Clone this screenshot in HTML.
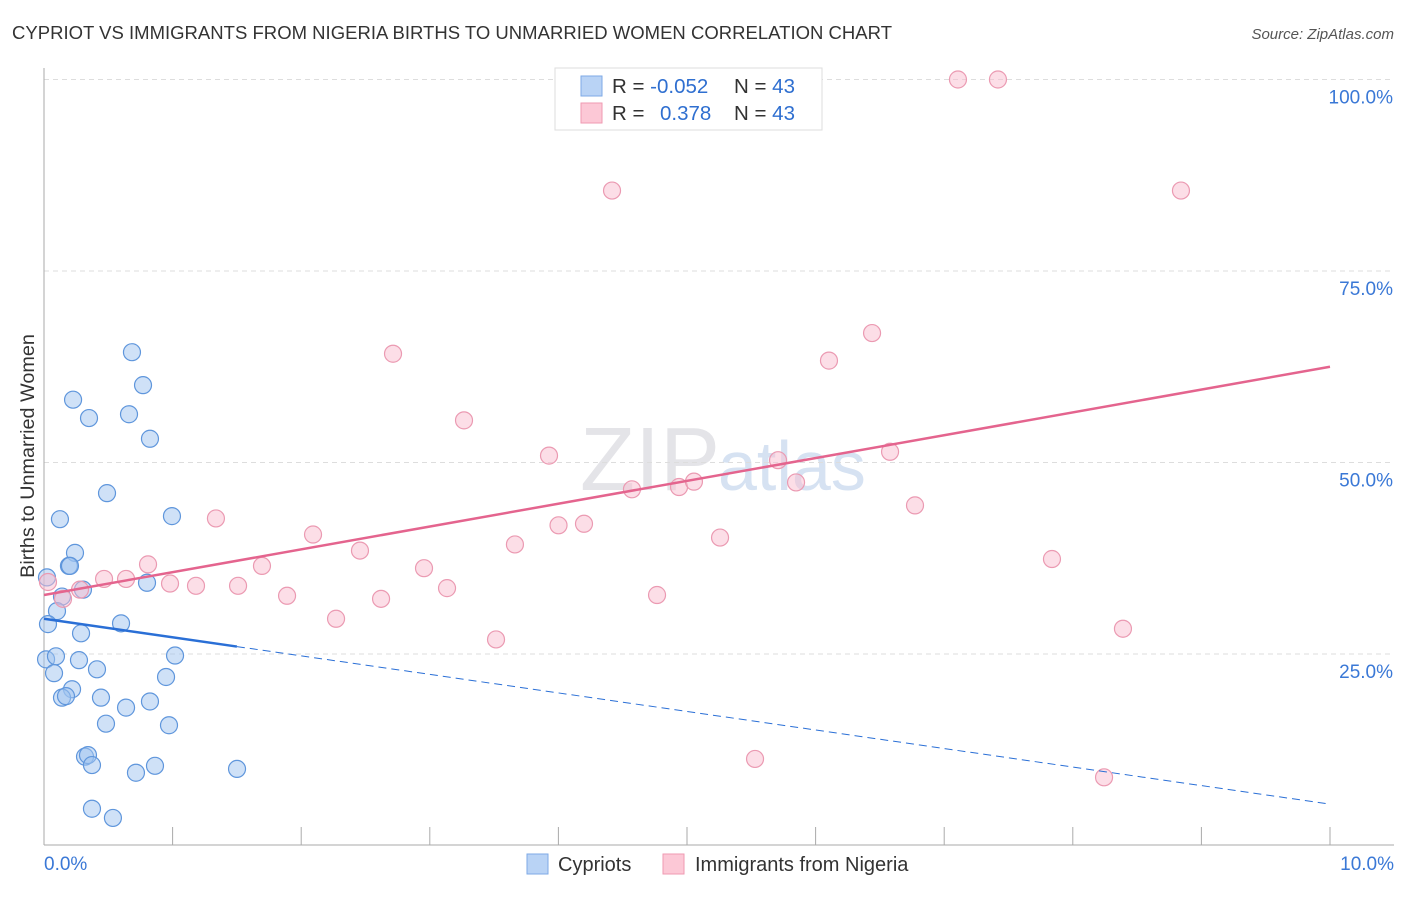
<!DOCTYPE html>
<html><head><meta charset="utf-8"><style>
body{margin:0;background:#fff;font-family:"Liberation Sans",sans-serif}
svg text{font-family:"Liberation Sans",sans-serif}
</style></head><body>
<svg id="c" width="1406" height="892">
<text x="12" y="39" font-size="18.5" fill="#333" textLength="880">CYPRIOT VS IMMIGRANTS FROM NIGERIA BIRTHS TO UNMARRIED WOMEN CORRELATION CHART</text>
<text x="1394" y="39" font-size="15" fill="#555" text-anchor="end" font-style="italic">Source: ZipAtlas.com</text>
<text x="34" y="456" font-size="19.8" fill="#333" text-anchor="middle" transform="rotate(-90 34 456)">Births to Unmarried Women</text>
<text x="720" y="490" font-size="90" fill="#e4e4e8" text-anchor="end" font-family="Liberation Serif">ZIP</text>
<text x="718" y="490" font-size="70" fill="#d6e2f2">atlas</text>
<g id="grid"></g><g id="axes"></g><g id="pts"></g><g id="lines"></g>
<g>
<rect x="555" y="68" width="267" height="62" fill="#fff" stroke="#ddd"/>
<rect x="581" y="76" width="21" height="20" fill="#b9d3f5" stroke="#7eaae6"/>
<rect x="581" y="103" width="21" height="20" fill="#fcc8d6" stroke="#ef9ab2"/>
<text x="612" y="93" font-size="20.5" fill="#333">R = <tspan fill="#2f6fd0">-0.052</tspan></text>
<text x="734" y="93" font-size="20.5" fill="#333">N = <tspan fill="#2f6fd0">43</tspan></text>
<text x="612" y="120" font-size="20.5" fill="#333">R = </text><text x="660" y="120" font-size="20.5" fill="#2f6fd0">0.378</text>
<text x="734" y="120" font-size="20.5" fill="#333">N = <tspan fill="#2f6fd0">43</tspan></text>
</g>
<g>
<rect x="527" y="854" width="21" height="20" fill="#b9d3f5" stroke="#7eaae6"/>
<text x="558" y="871" font-size="20" fill="#333">Cypriots</text>
<rect x="663" y="854" width="21" height="20" fill="#fcc8d6" stroke="#ef9ab2"/>
<text x="695" y="871" font-size="20" fill="#333">Immigrants from Nigeria</text>
</g>
</svg>
<script>
const yTicks=[25,50,75,100];
const yTickLabels=["25.0%","50.0%","75.0%","100.0%"];
const xTickLabels=["0.0%","10.0%"];
const cypriotX=[0.684,0.770,0.226,0.350,0.661,0.824,0.490,0.124,0.995,0.241,0.194,0.202,0.801,0.303,0.140,0.101,0.599,0.031,0.288,0.016,0.093,0.272,0.078,0.412,0.949,1.019,0.218,0.140,0.171,0.443,0.638,0.824,0.482,0.972,0.319,0.342,0.373,0.715,0.863,1.501,0.373,0.536,0.023];
const cypriotY=[64.4,60.1,58.2,55.8,56.3,53.1,46.0,42.6,43.0,38.2,36.5,36.5,34.3,33.4,32.5,30.6,29.0,28.9,27.7,24.3,24.7,24.2,22.5,23.0,22.0,24.8,20.4,19.3,19.5,19.3,18.0,18.8,15.9,15.7,11.6,11.8,10.5,9.5,10.4,10.0,4.8,3.6,35.0];
const nigeriaX=[7.107,7.418,4.417,8.841,6.439,6.104,2.714,3.266,3.927,6.579,5.708,4.572,4.938,5.054,5.848,6.773,4.001,4.199,5.257,3.662,2.092,1.337,0.809,0.467,0.638,0.980,1.182,1.509,1.695,2.457,2.955,3.134,1.890,2.621,2.271,3.515,4.767,7.838,8.390,5.529,8.243,0.031,0.148,0.280];
const nigeriaY=[100,100,85.5,85.5,66.9,63.3,64.2,55.5,50.9,51.4,50.3,46.5,46.8,47.5,47.4,44.4,41.8,42.0,40.2,39.3,40.6,42.7,36.7,34.8,34.8,34.2,33.9,33.9,36.5,38.5,36.2,33.6,32.6,32.2,29.6,26.9,32.7,37.4,28.3,11.3,8.9,34.4,32.2,33.4];
const blueFit=[29.6,5.4], blueSolidEnd=1.5, pinkFit=[32.7,62.5];
const NS="http://www.w3.org/2000/svg";
const X0=44,X1=1330,Y0=845.5,YS=7.66;
const sx=v=>X0+(X1-X0)*v/10, sy=v=>Y0-v*YS;
function mk(t,p,a){const e=document.createElementNS(NS,t);for(const k in a)e.setAttribute(k,a[k]);document.getElementById(p).appendChild(e);return e;}
yTicks.forEach((t,i)=>{
 const g=mk('line','grid',{x1:44,x2:1394,y1:sy(t),y2:sy(t),stroke:'#ddd','stroke-dasharray':'5,4'});
 
 
 const l=mk('text','grid',{x:1393,y:sy(t)+24,'font-size':19,fill:'#3a78d6','text-anchor':'end'});l.textContent=yTickLabels[i];
 
 
});
const ax=mk('line','axes',{x1:44,x2:44,y1:68,y2:845,stroke:'#aaa'});


const bx=mk('line','axes',{x1:44,x2:1394,y1:845,y2:845,stroke:'#aaa'});


for(let i=1;i<=10;i++){const t=mk('line','axes',{x1:sx(i),x2:sx(i),y1:827,y2:845,stroke:'#aaa'});
 
 }
[[0,44,'start'],[10,1394,'end']].forEach((d,i)=>{const t=mk('text','axes',{x:d[1],y:870,'font-size':19,fill:'#3a78d6','text-anchor':d[2]});t.textContent=xTickLabels[i];
 
 });
cypriotX.forEach((v,i)=>{const c=mk('circle','pts',{cx:sx(v),cy:sy(cypriotY[i]),r:8.5,fill:'rgba(160,196,240,0.5)',stroke:'#5f96dc','stroke-width':1.2});
 
 });
nigeriaX.forEach((v,i)=>{const c=mk('circle','pts',{cx:sx(v),cy:sy(nigeriaY[i]),r:8.5,fill:'rgba(250,190,208,0.5)',stroke:'#eb9ab2','stroke-width':1.2});
 
 });
const by=x=>blueFit[0]+(blueFit[1]-blueFit[0])*x/10;
const b1=mk('line','lines',{x1:sx(0),y1:sy(blueFit[0]),x2:sx(blueSolidEnd),y2:sy(by(blueSolidEnd)),stroke:'#2a6fd6','stroke-width':2.5});


const b2=mk('line','lines',{x1:sx(blueSolidEnd),y1:sy(by(blueSolidEnd)),x2:sx(10),y2:sy(blueFit[1]),stroke:'#2a6fd6','stroke-width':1,'stroke-dasharray':'8,5'});


const p=mk('line','lines',{x1:sx(0),y1:sy(pinkFit[0]),x2:sx(10),y2:sy(pinkFit[1]),stroke:'#e4648e','stroke-width':2.5});


</script>
</body></html>
